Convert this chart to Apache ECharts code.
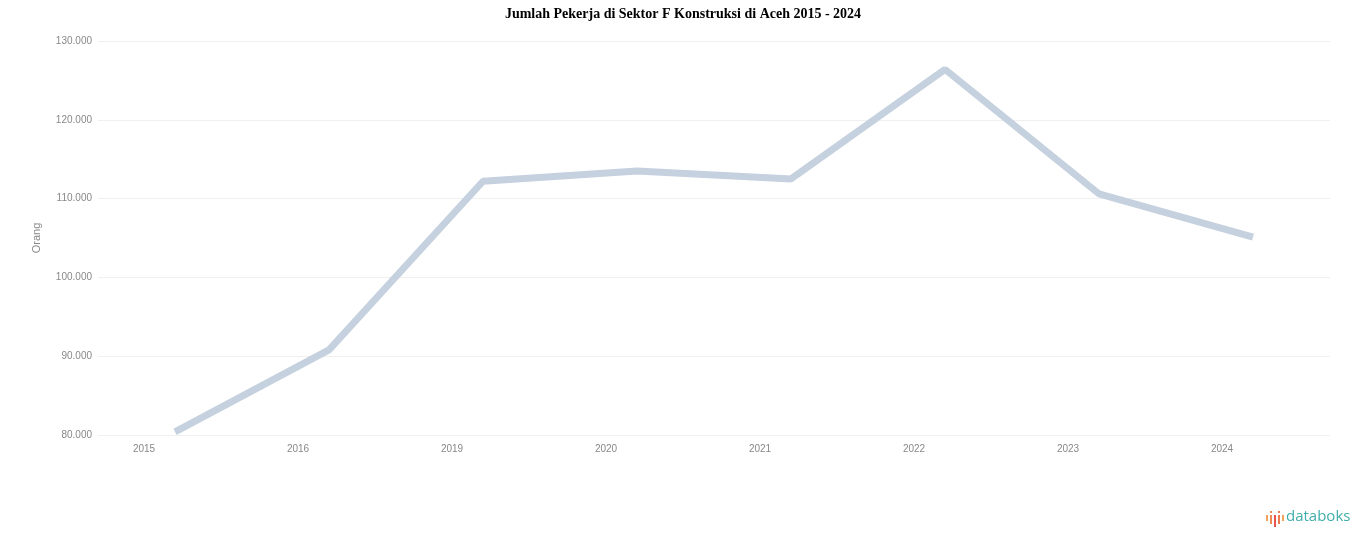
<!DOCTYPE html>
<html>
<head>
<meta charset="utf-8">
<script src="https://cdn.jsdelivr.net/npm/echarts@6/dist/echarts.min.js"></script>
<style>
html,body{margin:0;padding:0;background:#fff;}
#chart{width:1366px;height:547px;}
</style>
</head>
<body>
<div id="chart"></div>
<script>
const titleText = 'Jumlah Pekerja di Sektor F Konstruksi di Aceh 2015 - 2024';
const years = ['2015', '2016', '2019', '2020', '2021', '2022', '2023', '2024'];
const workers = [80400, 90800, 112200, 113500, 112500, 126400, 110600, 105100];
const yAxisName = 'Orang';

const chart = echarts.init(document.getElementById('chart'));
chart.setOption({
  backgroundColor: '#ffffff',
  animation: false,
  title: {
    text: titleText,
    left: 'center',
    top: 2,
    textStyle: { fontFamily: 'Liberation Serif', fontWeight: 'bold', fontSize: 14, color: '#000' }
  },
  grid: { left: 98, right: 36, top: 41, bottom: 112 },
  xAxis: {
    type: 'category',
    data: years,
    boundaryGap: true,
    axisLine: { show: false },
    axisTick: { show: false },
    axisLabel: {
      color: '#888', fontSize: 10, fontFamily: 'Liberation Sans', margin: 9,
      padding: [0, 62, 0, 0]
    }
  },
  yAxis: {
    type: 'value',
    min: 80000, max: 130000, interval: 10000,
    name: yAxisName,
    nameLocation: 'middle',
    nameGap: 56,
    nameTextStyle: { color: '#888', fontSize: 11, fontFamily: 'Liberation Sans' },
    axisLine: { show: false },
    axisTick: { show: false },
    splitLine: { lineStyle: { color: '#f0f0f0', width: 1 } },
    axisLabel: {
      color: '#888', fontSize: 10, fontFamily: 'Liberation Sans', margin: 6,
      formatter: v => v.toLocaleString('de-DE')
    }
  },
  series: [{
    type: 'line',
    data: workers,
    showSymbol: false,
    lineStyle: { color: '#c5d1df', width: 7 },
    itemStyle: { color: '#c5d1df' }
  }],
  graphic: [
    { type: 'rect', shape: { x: 1266, y: 515, width: 2, height: 6 }, style: { fill: '#f3a35a' } },
    { type: 'rect', shape: { x: 1270, y: 511, width: 2, height: 2 }, style: { fill: '#ef8a55' } },
    { type: 'rect', shape: { x: 1270, y: 515, width: 2, height: 9 }, style: { fill: '#ef8a55' } },
    { type: 'rect', shape: { x: 1274, y: 515, width: 2, height: 12 }, style: { fill: '#e9554e' } },
    { type: 'rect', shape: { x: 1278, y: 511, width: 2, height: 2 }, style: { fill: '#ef7a52' } },
    { type: 'rect', shape: { x: 1278, y: 515, width: 2, height: 9 }, style: { fill: '#ef7a52' } },
    { type: 'rect', shape: { x: 1282, y: 515, width: 2, height: 6 }, style: { fill: '#f3a35a' } },
    {
      type: 'text', left: 1286, top: 509,
      style: { text: 'databoks', fill: '#40aeaa', font: '500 15px "Open Sans", sans-serif' }
    }
  ]
});
</script>
</body>
</html>
